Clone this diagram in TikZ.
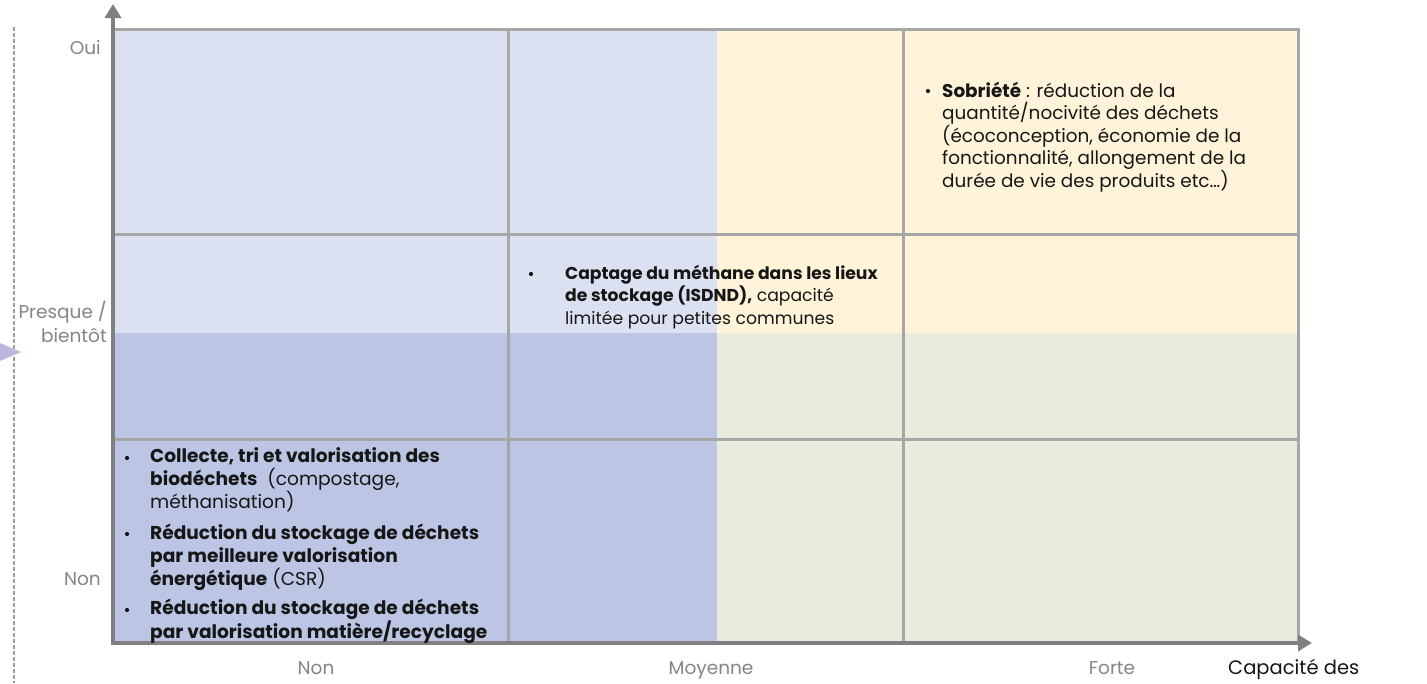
\documentclass[tikz,border=0pt]{standalone}
\usepackage{fontspec}
\setmainfont{Poppins}
\usetikzlibrary{arrows.meta}
\definecolor{cellA}{HTML}{DCE1F1}
\definecolor{cellB}{HTML}{FFF4D9}
\definecolor{cellC}{HTML}{BCC6E4}
\definecolor{cellD}{HTML}{E9ECDC}
\definecolor{gridgray}{HTML}{A6A6A6}
\definecolor{axisgray}{HTML}{808080}
\definecolor{labgray}{HTML}{858585}
\definecolor{txt}{HTML}{161616}
\definecolor{tri}{HTML}{BDB6DE}
\definecolor{dashgray}{HTML}{9C9C9C}
\tikzset{
  gridline/.style={draw=gridgray, line width=3pt},
  axisline/.style={draw=axisgray, line width=4pt, -{Triangle[length=14pt,width=16pt]}},
  axislab/.style={text=labgray, font=\fontsize{18.5}{22}\selectfont, inner sep=0pt},
  body/.style={text=txt, inner sep=0pt, align=left, anchor=base west},
  fbig/.style={font=\fontsize{18.6}{22.7}\selectfont},
  fmid/.style={font=\fontsize{17.2}{22.5}\selectfont},
  ftop/.style={font=\fontsize{18.4}{22.5}\selectfont},
  bul/.style={circle, fill=txt, inner sep=0pt, minimum size=4.2pt}
}
\begin{document}
\begin{tikzpicture}[x=1pt,y=-1pt]
\useasboundingbox (0,0) rectangle (1427,683);
% cells
\fill[cellA] (113,29) rectangle (717,333);
\fill[cellB] (717,29) rectangle (1298,333);
\fill[cellC] (113,333) rectangle (717,643);
\fill[cellD] (717,333) rectangle (1298,643);
% grid
\draw[gridline] (508,29) -- (508,643);
\draw[gridline] (903,29) -- (903,643);
\draw[gridline] (113,234) -- (1298,234);
\draw[gridline] (113,439) -- (1298,439);
\draw[gridline] (113,29) -- (1298,29) -- (1298,643);
% axes
\coordinate (ytop) at (113,4);
\coordinate (xend) at (1312,643);
\draw[axisline] (113,645) -- (ytop);
\draw[axisline] (111,643) -- (xend);
% left dashed line and marker
\coordinate (d1) at (14,27);
\coordinate (d2) at (14,683);
\draw[dashgray, line width=1.4pt, dash pattern=on 4pt off 2pt] (d1) -- (d2);
\fill[tri] (0,343) -- (21,352) -- (0,361) -- cycle;
% axis labels
\node[axislab, anchor=base east] (oui) at (101,54) {Oui};
\node[axislab, anchor=base east] (presque) at (107,318) {Presque /};
\node[axislab, anchor=base east] (bientot) at (107,342) {bientôt};
\node[axislab, anchor=base east] (nony) at (101,585) {Non};
\node[axislab, anchor=base] (nonx) at (316,674) {Non};
\node[axislab, anchor=base] (moy) at (711,674) {Moyenne};
\node[axislab, anchor=base] (forte) at (1112,674) {Forte};
\node[axislab, text=txt, anchor=base west, font=\fontsize{19.5}{22}\selectfont] (cap) at (1228,674) {Capacité des};
% bottom-left block (anchored at the baseline of the last line)
\node[bul] (b1) at (127,458) {};
\node[body, fbig] (t1) at (150,508) {\textbf{Collecte, tri et valorisation des}\\\textbf{biodéchets}~ (compostage,\\méthanisation)};
\node[bul] (b2) at (127,534) {};
\node[body, fbig] (t2) at (150,585) {\textbf{Réduction du stockage de déchets}\\\textbf{par meilleure valorisation}\\\textbf{énergétique} (CSR)};
\node[bul] (b3) at (127,610) {};
\node[body, fbig] (t3) at (150,638.5) {\textbf{Réduction du stockage de déchets}\\\textbf{par valorisation matière/recyclage}};
% middle block
\node[bul] (b4) at (531,274) {};
\node[body, fmid] (t4) at (565,324) {\textbf{Captage du méthane dans les lieux}\\\textbf{de stockage (ISDND),} capacité\\limitée pour petites communes};
% top-right block
\node[bul] (b5) at (928,91) {};
\node[body, ftop] (t5) at (942,187) {\textbf{Sobriété} : réduction de la\\quantité/nocivité des déchets\\(écoconception, économie de la\\fonctionnalité, allongement de la\\durée de vie des produits etc…)};
\end{tikzpicture}
\end{document}
